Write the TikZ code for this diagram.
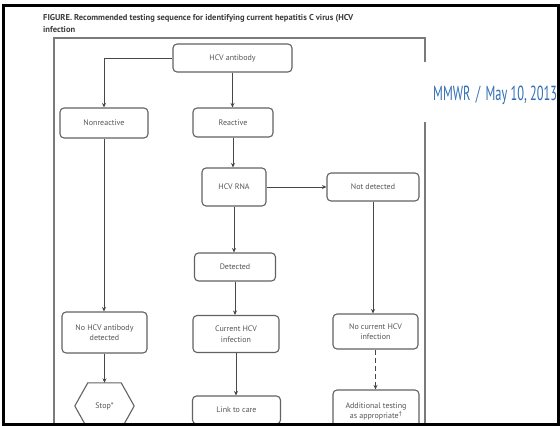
\documentclass[tikz,border=0pt]{standalone}
\usepackage{fontspec}
\setmainfont{PT Sans}
\setsansfont{PT Sans}
\usetikzlibrary{arrows.meta}
\definecolor{boxline}{HTML}{626262}
\definecolor{txt}{HTML}{555555}
\definecolor{conncol}{HTML}{474747}
\definecolor{framecol}{HTML}{7A7A7A}
\definecolor{titlecol}{HTML}{3A3A3A}
\definecolor{mmwr}{HTML}{2F6DB5}
\begin{document}
\begin{tikzpicture}[x=1pt,y=-1pt,
  box/.style={draw=boxline, line width=1.1pt, rounded corners=4pt, fill=white,
    align=center, font=\fontsize{8}{10.5}\selectfont, text=txt, inner sep=0pt},
  conn/.style={draw=conncol, line width=0.9pt, -{Stealth[length=4.5pt,width=4pt]}},
  hexline/.style={draw=boxline, line width=1.1pt, line join=round},
]
\useasboundingbox (0,0) rectangle (560,426);
\begin{scope}
\clip (0,0) rectangle (560,424);
% inner figure frame (right side interrupted by the MMWR label area)
\draw[framecol, line width=1.2pt] (425,62) -- (425,38) -- (54,38) -- (54,430);
\draw[framecol, line width=1.2pt] (425,122) -- (425,430);
% title
\node[anchor=base west, inner sep=0pt, font=\bfseries\fontsize{8.5}{10}\selectfont, text=titlecol] (title1) at (43,20)
  {FIGURE. Recommended testing sequence for identifying current hepatitis C virus (HCV};
\node[anchor=base west, inner sep=0pt, font=\bfseries\fontsize{8.5}{10}\selectfont, text=titlecol] (title2) at (43,32) {infection};
% MMWR label
\node[anchor=base west, inner sep=0pt, text=mmwr] (mmwr) at (433,100)
  {\resizebox{124pt}{14.5pt}{MMWR \,/\, May 10, 2013}};
% boxes
\node[box, minimum width=119pt, minimum height=28pt] (ab) at (232.5,58) {HCV antibody};
\node[box, minimum width=88pt, minimum height=30pt] (nr) at (104,123) {Nonreactive};
\node[box, minimum width=80pt, minimum height=29pt] (re) at (233,122.5) {Reactive};
\node[box, minimum width=64pt, minimum height=38pt] (rna) at (234,187) {HCV RNA};
\node[box, minimum width=92pt, minimum height=28pt] (nd) at (373,187) {Not detected};
\node[box, minimum width=81pt, minimum height=28pt] (det) at (235,267) {Detected};
\node[box, minimum width=85pt, minimum height=41pt] (nhab) at (104.5,332.5) {No HCV antibody\\detected};
\node[box, minimum width=86pt, minimum height=37pt] (cur) at (236,334) {Current HCV\\infection};
\node[box, minimum width=85pt, minimum height=35pt] (ncur) at (375.5,331.5) {No current HCV\\infection};
\node[box, minimum width=88pt, minimum height=28pt] (link) at (236.5,410) {Link to care};
\node[box, minimum width=86pt, minimum height=43pt] (add) at (376,411.5) {Additional testing\\as appropriate\textsuperscript{†}};
% Stop hexagon
\node[inner sep=0pt, minimum width=33pt, minimum height=46pt, font=\fontsize{8}{10.5}\selectfont, text=txt] (stop) at (104.5,406) {Stop*};
\draw[hexline] ([xshift=-13pt]stop.west) -- (stop.north west) -- (stop.north east)
  -- ([xshift=13pt]stop.east) -- (stop.south east) -- (stop.south west) -- cycle;
% connectors
\draw[conn] (ab.west) -| (nr.north);
\draw[conn] (ab.south) -- (ab.south |- re.north);
\draw[conn] (re.south) -- (re.south |- rna.north);
\draw[conn] (rna.east) -- (nd.west);
\draw[conn] (rna.south) -- (rna.south |- det.north);
\draw[conn] (det.south) -- (det.south |- cur.north);
\draw[conn] (cur.south) -- (cur.south |- link.north);
\draw[conn] (nr.south) -- (nr.south |- nhab.north);
\draw[conn] (nhab.south) -- (nhab.south |- stop.north);
\draw[conn] (nd.south) -- (nd.south |- ncur.north);
\draw[conn, dash pattern=on 5pt off 3pt] (ncur.south) -- (ncur.south |- add.north);
\end{scope}
% outer black frame
\draw[black, line width=2.2pt] (3.5,5.5) rectangle (558.5,424.5);
\end{tikzpicture}
\end{document}
